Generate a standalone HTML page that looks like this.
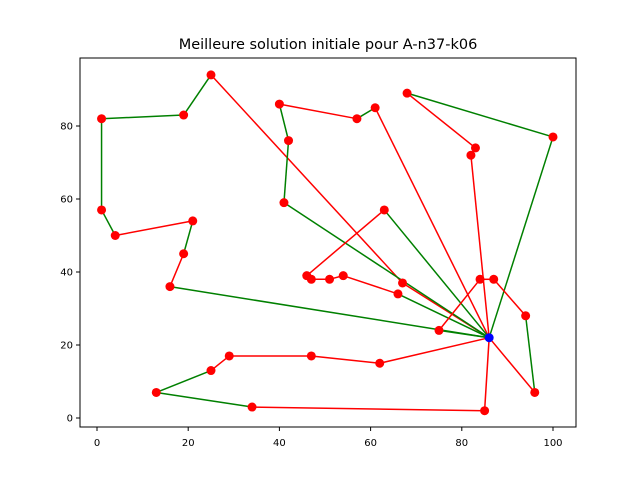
<!DOCTYPE html>
<html><head><meta charset="utf-8"><style>
body{margin:0;background:#fff;}
svg{display:block;font-family:"DejaVu Sans","Liberation Sans",sans-serif;}
</style></head><body>
<svg id="chart" width="640" height="480" viewBox="0 0 640 480" xmlns="http://www.w3.org/2000/svg">
<rect width="640" height="480" fill="#fff"/>
<text x="328" y="49" font-size="14.5" text-anchor="middle">Meilleure solution initiale pour A-n37-k06</text>
<g id="segs"></g><g id="pts"></g><g id="axes"></g>
<rect x="80" y="58" width="496" height="369" fill="none" stroke="#000" stroke-width="1"/>
</svg>
<script>
const depot = [86, 22];
const route1 = [[86,22],[67,37],[25,94],[19,83],[1,82],[1,57],[4,50],[21,54],[19,45],[16,36],[86,22]];
const route1Colors = ["red","red","green","green","green","green","red","green","red","green"];
const route2 = [[86,22],[41,59],[42,76],[40,86],[57,82],[61,85],[86,22]];
const route2Colors = ["green","green","green","red","green","red"];
const route3 = [[86,22],[82,72],[83,74],[68,89],[100,77],[86,22]];
const route3Colors = ["red","red","red","green","green"];
const route4 = [[86,22],[63,57],[46,39],[47,38],[51,38],[54,39],[66,34],[86,22]];
const route4Colors = ["green","red","red","red","red","red","green"];
const route5 = [[86,22],[75,24],[84,38],[87,38],[94,28],[96,7],[86,22]];
const route5Colors = ["green","red","red","red","green","red"];
const route6 = [[86,22],[85,2],[34,3],[13,7],[25,13],[29,17],[47,17],[62,15],[86,22]];
const route6Colors = ["red","red","green","green","red","red","red","red"];
const xTicks = [0,20,40,60,80,100];
const yTicks = [0,20,40,60,80];

const sx = v => 97 + v*4.56;
const sy = v => 418 - v*3.65;
const NS = "http://www.w3.org/2000/svg";
const segs = document.getElementById('segs'), pts = document.getElementById('pts'), axes = document.getElementById('axes');
const routes = [[route1,route1Colors],[route2,route2Colors],[route3,route3Colors],[route4,route4Colors],[route5,route5Colors],[route6,route6Colors]];
routes.forEach(([r,c]) => {
  for (let i=0;i<r.length-1;i++){
    const l=document.createElementNS(NS,'line');
    
    
    l.setAttribute('x1',sx(r[i][0]));l.setAttribute('y1',sy(r[i][1]));
    l.setAttribute('x2',sx(r[i+1][0]));l.setAttribute('y2',sy(r[i+1][1]));
    l.setAttribute('stroke',c[i]);l.setAttribute('stroke-width','1.5');
    segs.appendChild(l);
  }
  r.forEach(p=>{
    if(p[0]===depot[0]&&p[1]===depot[1])return;
    const ci=document.createElementNS(NS,'circle');
    
    
    ci.setAttribute('cx',sx(p[0]));ci.setAttribute('cy',sy(p[1]));ci.setAttribute('r','4.5');ci.setAttribute('fill','red');
    pts.appendChild(ci);
  });
});
const d=document.createElementNS(NS,'circle');


d.setAttribute('cx',sx(depot[0]));d.setAttribute('cy',sy(depot[1]));d.setAttribute('r','4.5');d.setAttribute('fill','blue');
pts.appendChild(d);
xTicks.forEach(t=>{
  const l=document.createElementNS(NS,'line');
  
  
  l.setAttribute('x1',sx(t));l.setAttribute('x2',sx(t));l.setAttribute('y1',427);l.setAttribute('y2',431);l.setAttribute('stroke','#000');
  axes.appendChild(l);
  const tx=document.createElementNS(NS,'text');
  
  
  tx.setAttribute('x',sx(t));tx.setAttribute('y',446);tx.setAttribute('font-size','10');tx.setAttribute('text-anchor','middle');
  tx.textContent=t;axes.appendChild(tx);
});
yTicks.forEach(t=>{
  const l=document.createElementNS(NS,'line');
  
  
  l.setAttribute('x1',76);l.setAttribute('x2',80);l.setAttribute('y1',sy(t));l.setAttribute('y2',sy(t));l.setAttribute('stroke','#000');
  axes.appendChild(l);
  const tx=document.createElementNS(NS,'text');
  
  
  tx.setAttribute('x',73);tx.setAttribute('y',sy(t)+3.5);tx.setAttribute('font-size','10');tx.setAttribute('text-anchor','end');
  tx.textContent=t;axes.appendChild(tx);
});
</script>
</body></html>
